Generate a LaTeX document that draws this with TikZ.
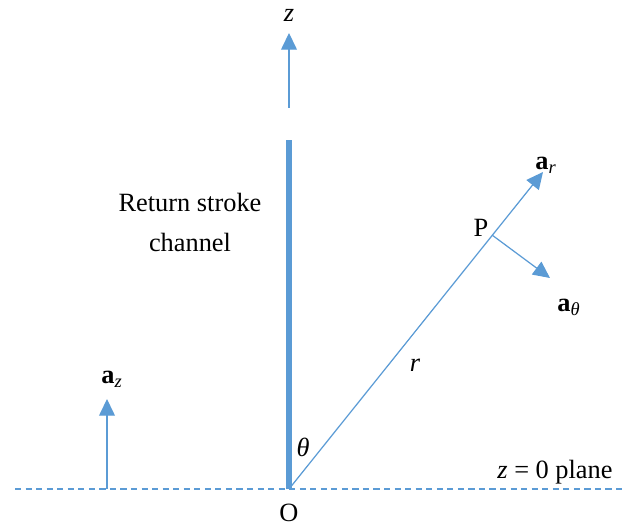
\documentclass[tikz,border=0pt]{standalone}
\usepackage{fontspec}
\setmainfont{Liberation Serif}
\usetikzlibrary{arrows.meta}
\definecolor{lineblue}{RGB}{91,155,213}

\begin{document}
\begin{tikzpicture}[
    vec/.style={draw=lineblue, line width=0.7pt, -{Triangle[length=9.5pt, width=9pt]}},
    lbl/.style={inner sep=0pt, font=\fontsize{15}{23}\selectfont}]
    \useasboundingbox (0, 0) rectangle (12.5, 10.5);

    % Ground plane and origin
    \coordinate (O) at (5.78, 0.72);
    \coordinate (west) at (0.3, 0.72);
    \coordinate (east) at (12.5, 0.72);
    \draw[draw=lineblue, line width=0.6pt, dash pattern=on 3.5pt off 2.5pt] (west) -- (east);
    \node[lbl] (origin) at (5.78, 0.24) {O};
    \node[lbl] (plane) at (11.1, 1.06) {\textit{z} = 0 plane};

    % Channel and z axis
    \coordinate (chtop) at (5.78, 7.70);
    \draw[draw=lineblue, line width=3pt] (O) -- (chtop);
    \node[lbl, align=center] (channel) at (3.8, 6.05) {Return stroke\\channel};
    \coordinate (zfoot) at (5.78, 8.34);
    \coordinate (zhead) at (5.78, 9.84);
    \draw[vec] (zfoot) -- (zhead);
    \node[lbl] (zlabel) at (5.78, 10.2) {\textit{z}};

    % Unit vector a_z
    \coordinate (azfoot) at (2.14, 0.72);
    \coordinate (azhead) at (2.14, 2.52);
    \draw[vec] (azfoot) -- (azhead);
    \node[lbl] (azlabel) at (2.24, 2.92) {\textbf{a}\textsubscript{\textit{z}}};

    % Position vector and point P
    \coordinate (arhead) at (10.86, 7.06);
    \coordinate (P) at (9.84, 5.80);
    \coordinate (athead) at (11.0, 4.94);
    \draw[vec] (O) -- (arhead);
    \draw[vec] (P) -- (athead);
    \node[lbl] (Plabel) at (9.62, 5.94) {P};
    \node[lbl] (arlabel) at (10.92, 7.2) {\textbf{a}\textsubscript{\textit{r}}};
    \node[lbl] (atlabel) at (11.38, 4.36) {\textbf{a}\textsubscript{\textit{θ}}};
    \node[lbl] (rlabel) at (8.3, 3.2) {\textit{r}};
    \node[lbl] (theta) at (6.06, 1.56) {\textit{θ}};
\end{tikzpicture}
\end{document}
